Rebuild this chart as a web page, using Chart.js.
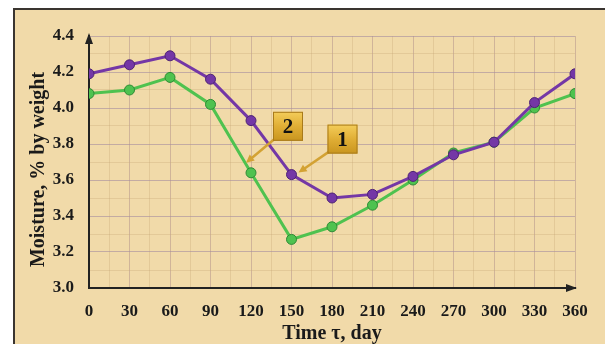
<!DOCTYPE html>
<html>
<head>
<meta charset="utf-8">
<script src="https://cdn.jsdelivr.net/npm/chart.js@4/dist/chart.umd.min.js"></script>
<style>
  html, body { margin: 0; padding: 0; background: #fff; }
  #wrap { position: relative; width: 605px; height: 344px; overflow: hidden; }
  #panel {
    position: absolute; left: 13px; top: 8px; right: 0; bottom: 0;
    background: #F1DAA9;
    border-left: 2px solid #3a3530; border-top: 2px solid #3a3530;
  }
  canvas { position: absolute; left: 0; top: 0; }
</style>
</head>
<body>
<div id="wrap">
  <div id="panel"></div>
  <canvas id="chart" width="605" height="344"></canvas>
</div>
<script>
// ── Données ────────────────────────────────────────────────
const days = [0, 30, 60, 90, 120, 150, 180, 210, 240, 270, 300, 330, 360];
const moisture1 = [4.19, 4.24, 4.29, 4.16, 3.93, 3.63, 3.50, 3.52, 3.62, 3.74, 3.81, 4.03, 4.19];
const moisture2 = [4.08, 4.10, 4.17, 4.02, 3.64, 3.27, 3.34, 3.46, 3.60, 3.75, 3.81, 4.00, 4.08];
const yTickLabels = ['3.0', '3.2', '3.4', '3.6', '3.8', '4.0', '4.2', '4.4'];
const xTickLabels = ['0', '30', '60', '90', '120', '150', '180', '210', '240', '270', '300', '330', '360'];
// étiquettes numérotées : texte, jour du point visé, série
const calloutText = ['2', '1'];
const calloutDay = [120, 150];
const calloutSeries = [moisture2, moisture1];

const SERIF = "'Liberation Serif', 'Times New Roman', serif";
const PURPLE = '#7437A6';
const GREEN = '#4FC24F';

// décalages (px) des boîtes et des pointes par rapport au point visé
const BOX_OFFSET = [[22, -61], [36, -50]];
const TIP_OFFSET = [[-5, -10], [7, -2]];

// flèches des axes + étiquettes "1" / "2"
const decorPlugin = {
  id: 'decor',
  afterDatasetsDraw(chart) {
    const { ctx, scales: { x, y } } = chart;
    ctx.save();
    // pointe de flèche axe Y
    const ax = x.getPixelForValue(0);
    const topY = y.getPixelForValue(4.4);
    ctx.fillStyle = '#222';
    ctx.beginPath();
    ctx.moveTo(ax, topY - 3);
    ctx.lineTo(ax - 4, topY + 8);
    ctx.lineTo(ax + 4, topY + 8);
    ctx.closePath();
    ctx.fill();
    // pointe de flèche axe X
    const rx = x.getPixelForValue(360);
    const by = y.getPixelForValue(3.0);
    ctx.beginPath();
    ctx.moveTo(rx + 2, by);
    ctx.lineTo(rx - 9, by - 4);
    ctx.lineTo(rx - 9, by + 4);
    ctx.closePath();
    ctx.fill();

    // étiquettes
    calloutText.forEach((txt, i) => {
      const d = calloutDay[i];
      const px = x.getPixelForValue(d);
      const py = y.getPixelForValue(calloutSeries[i][days.indexOf(d)]);
      const bw = 30, bh = 29;
      const bx = px + BOX_OFFSET[i][0];
      const byy = py + BOX_OFFSET[i][1];
      // flèche
      const tx = px + TIP_OFFSET[i][0], ty = py + TIP_OFFSET[i][1];
      const sx = bx + 3, sy = byy + bh - 3;
      const ang = Math.atan2(ty - sy, tx - sx);
      ctx.strokeStyle = '#D3A233';
      ctx.lineWidth = 2.5;
      ctx.beginPath();
      ctx.moveTo(sx, sy);
      ctx.lineTo(tx - 6 * Math.cos(ang), ty - 6 * Math.sin(ang));
      ctx.stroke();
      ctx.fillStyle = '#D3A233';
      ctx.beginPath();
      ctx.moveTo(tx, ty);
      ctx.lineTo(tx - 9 * Math.cos(ang - 0.45), ty - 9 * Math.sin(ang - 0.45));
      ctx.lineTo(tx - 9 * Math.cos(ang + 0.45), ty - 9 * Math.sin(ang + 0.45));
      ctx.closePath();
      ctx.fill();
      // boîte dorée
      const g = ctx.createLinearGradient(bx, byy, bx, byy + bh);
      g.addColorStop(0, '#F4CD5A');
      g.addColorStop(0.5, '#E0AE35');
      g.addColorStop(1, '#C9951F');
      ctx.fillStyle = g;
      ctx.fillRect(bx, byy, bw, bh);
      ctx.strokeStyle = '#A87A1A';
      ctx.lineWidth = 1;
      ctx.strokeRect(bx + 0.5, byy + 0.5, bw - 1, bh - 1);
      ctx.fillStyle = '#111';
      ctx.font = 'bold 21px ' + SERIF;
      ctx.textAlign = 'center';
      ctx.textBaseline = 'middle';
      ctx.fillText(txt, bx + bw / 2, byy + bh / 2 + 1);
    });
    ctx.restore();
  },
};

new Chart(document.getElementById('chart'), {
  type: 'line',
  plugins: [decorPlugin],
  data: {
    datasets: [
      {
        label: '1',
        data: days.map((d, i) => ({ x: d, y: moisture1[i] })),
        borderColor: PURPLE,
        backgroundColor: PURPLE,
        pointBorderColor: '#4E2374',
        borderWidth: 3,
        pointRadius: 5,
        pointBorderWidth: 1,
        tension: 0,
      },
      {
        label: '2',
        data: days.map((d, i) => ({ x: d, y: moisture2[i] })),
        borderColor: GREEN,
        backgroundColor: GREEN,
        pointBorderColor: '#2E8A34',
        borderWidth: 3,
        pointRadius: 5,
        pointBorderWidth: 1,
        tension: 0,
      },
    ],
  },
  options: {
    responsive: false,
    animation: false,
    layout: { padding: { top: 36, right: 30, left: 0, bottom: 0 } },
    plugins: { legend: { display: false }, tooltip: { enabled: false } },
    scales: {
      x: {
        type: 'linear',
        min: 0,
        max: 360,
        afterFit: s => { s.height = 56; },
        border: { display: true, color: '#222', width: 2 },
        grid: {
          color: c => (c.tick.value % 30 === 0 ? 'rgba(180,150,140,0.55)' : 'rgba(200,170,120,0.35)'),
          lineWidth: 1,
          drawTicks: false,
        },
        ticks: {
          stepSize: 15,
          padding: 13,
          autoSkip: false,
          maxRotation: 0,
          color: '#1a1a1a',
          font: { family: SERIF, size: 17, weight: 'bold' },
          callback: v => (v % 30 === 0 ? xTickLabels[v / 30] : ''),
        },
        title: {
          display: true,
          text: 'Time τ, day',
          color: '#1a1a1a',
          font: { family: SERIF, size: 20, weight: 'bold', lineHeight: 1.05 },
          padding: { top: 0, bottom: 0 },
        },
      },
      y: {
        type: 'linear',
        min: 3.0,
        max: 4.4,
        afterFit: s => { s.width = 89; },
        border: { display: true, color: '#222', width: 2 },
        grid: {
          color: c => (Math.round(c.tick.value * 10) % 2 === 0 ? 'rgba(165,140,160,0.6)' : 'rgba(200,170,120,0.35)'),
          lineWidth: 1,
          drawTicks: false,
        },
        ticks: {
          stepSize: 0.1,
          padding: 15,
          autoSkip: false,
          color: '#1a1a1a',
          font: { family: SERIF, size: 17, weight: 'bold' },
          callback: v => {
            const k = Math.round(v * 10);
            return k % 2 === 0 ? yTickLabels[(k - 30) / 2] : '';
          },
        },
        title: {
          display: true,
          text: 'Moisture, % by weight\u2002\u00a0',
          color: '#1a1a1a',
          font: { family: SERIF, size: 20, weight: 'bold', lineHeight: 1.2 },
          padding: { top: 27, bottom: 0 },
        },
      },
    },
  },
});
</script>
</body>
</html>
